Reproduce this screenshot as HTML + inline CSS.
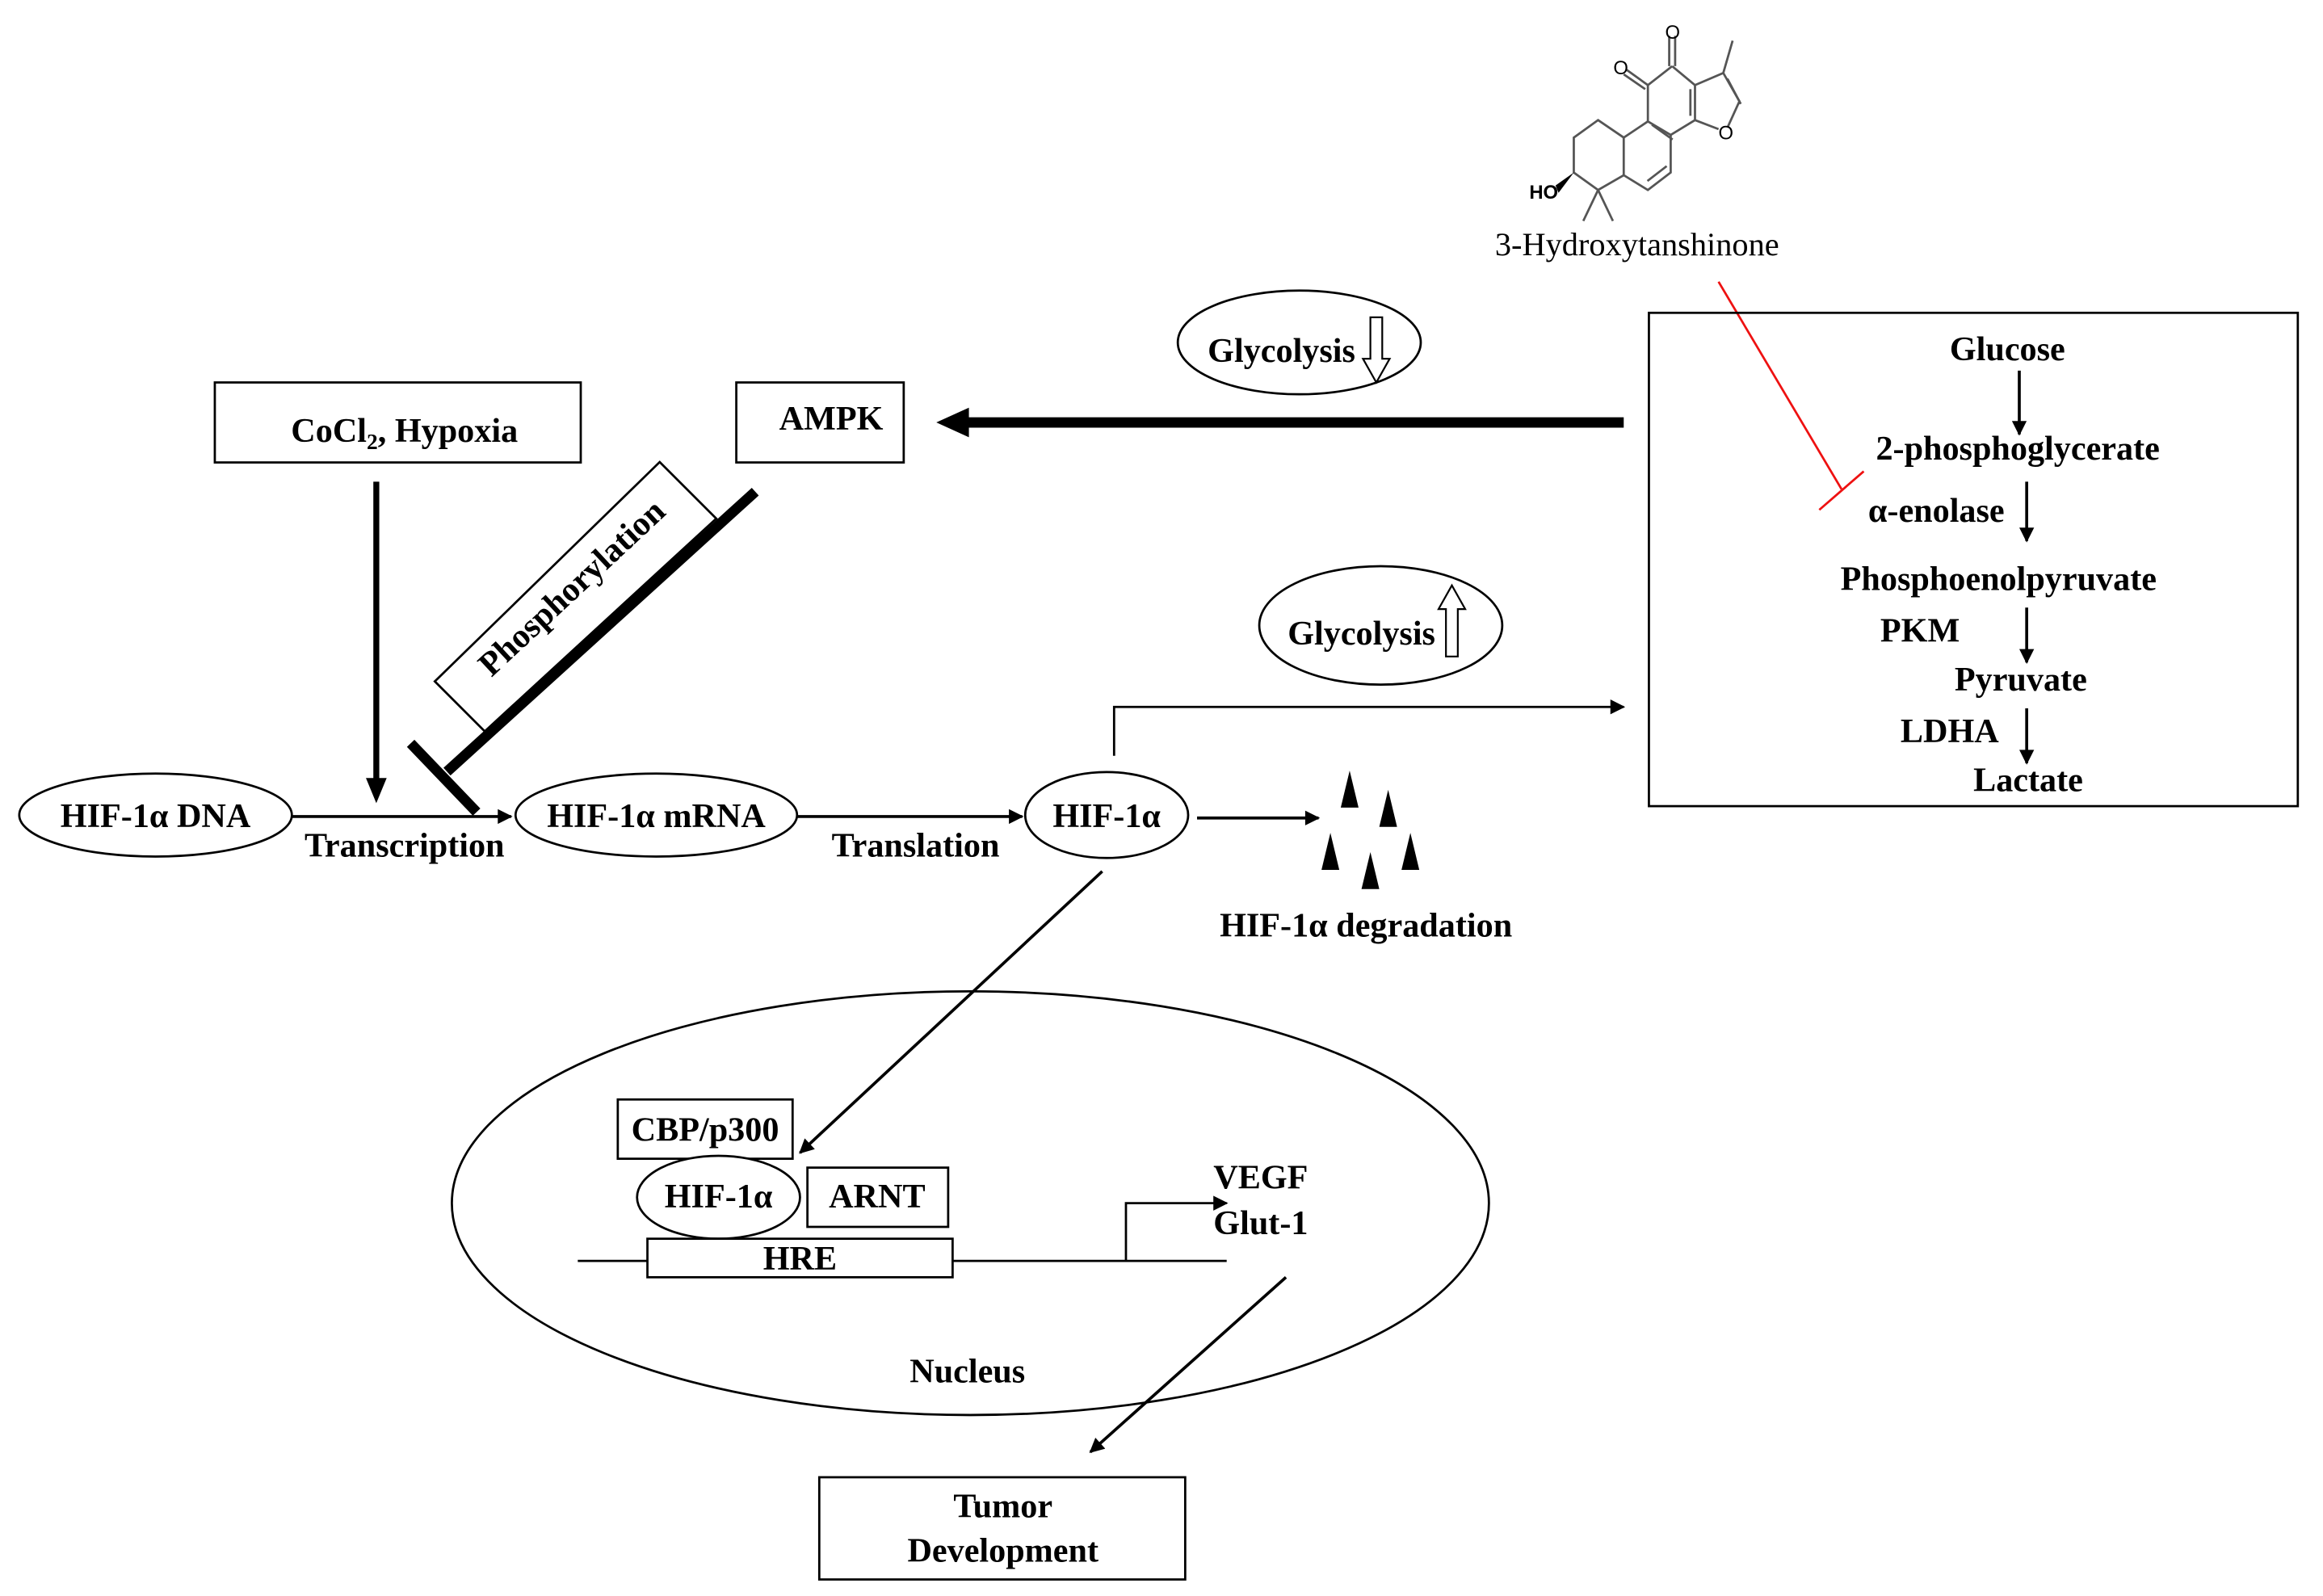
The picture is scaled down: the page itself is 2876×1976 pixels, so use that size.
<!DOCTYPE html>
<html><head><meta charset="utf-8"><style>
html,body{margin:0;padding:0;background:#fff}
svg{display:block}
text{font-family:"Liberation Serif",serif;font-weight:bold;font-size:23px;fill:#000;text-anchor:middle}
</style></head><body>
<svg width="2876" height="1976" viewBox="0 0 1568 1077" xmlns="http://www.w3.org/2000/svg">
<defs>
<marker id="ah" viewBox="0 0 10 10" refX="9" refY="5" markerWidth="11" markerHeight="10" markerUnits="userSpaceOnUse" orient="auto"><path d="M0,0L10,5L0,10z"/></marker>
</defs>
<rect width="1568" height="1077" fill="#fff"/>
<g stroke="#555" stroke-width="1.5" fill="none">
<path d="M1128.7,44.5L1112.3,57.3L1112.3,81.8L1127.7,90.9L1144.1,80.9L1144.1,57.3L1128.7,44.5"/>
<path d="M1126.7,44.5V24M1130.7,44.5V24"/>
<path d="M1112.3,57.3L1098,47M1110.5,60L1096,50"/>
<path d="M1144.1,57.3L1163.2,49.1L1174.1,68.2L1166,86M1144.1,80.9L1160,87M1163.2,49.1L1169.5,27.3"/>
<path d="M1166,53L1175,70M1141,60V78"/>
<path d="M1127.7,90.9L1127.7,116.3L1112.3,128.1L1096,118.1L1096,92.7L1112.3,81.8M1125,112L1112,122M1115,84L1129,94"/>
<path d="M1096,92.7L1078.7,80.9L1062.3,92.7L1062.3,116.3L1078.7,128.1L1096,118.1M1078.7,128.1L1068.7,149M1078.7,128.1L1088.7,149"/>
</g>
<path d="M1062.3,116.3L1050,125L1052,130z" fill="#000"/>
<text x="1042" y="134" style="font-family:'Liberation Sans',sans-serif;font-size:13px">HO</text>
<text x="1129" y="26" style="font-family:'Liberation Sans',sans-serif;font-size:13px;font-weight:normal">O</text>
<text x="1094" y="50" style="font-family:'Liberation Sans',sans-serif;font-size:13px;font-weight:normal">O</text>
<text x="1165" y="94" style="font-family:'Liberation Sans',sans-serif;font-size:13px;font-weight:normal">O</text>
<text x="1105" y="172" style="font-weight:normal;font-size:22px">3-Hydroxytanshinone</text>
<g stroke="#e11" stroke-width="1.5"><line x1="1160" y1="190" x2="1243" y2="330"/><line x1="1228" y1="344" x2="1258" y2="318"/></g>
<rect x="1113" y="211" width="438" height="333" fill="none" stroke="#000" stroke-width="1.5"/>
<text x="1355" y="243">Glucose</text>
<text x="1362" y="310">2-phosphoglycerate</text>
<text x="1307" y="352">α-enolase</text>
<text x="1349" y="398">Phosphoenolpyruvate</text>
<text x="1296" y="433">PKM</text>
<text x="1364" y="466">Pyruvate</text>
<text x="1316" y="501">LDHA</text>
<text x="1369" y="534">Lactate</text>
<g stroke="#000" stroke-width="2" marker-end="url(#ah)">
<line x1="1363" y1="250" x2="1363" y2="293"/>
<line x1="1368" y1="325" x2="1368" y2="365"/>
<line x1="1368" y1="410" x2="1368" y2="447"/>
<line x1="1368" y1="478" x2="1368" y2="515"/>
</g>
<ellipse cx="877" cy="231" rx="82" ry="35" fill="none" stroke="#000" stroke-width="1.5"/>
<text x="865" y="244">Glycolysis</text>
<path d="M925,214h8v28h5l-9,16l-9,-16h5z" fill="#fff" stroke="#000" stroke-width="1.2"/>
<line x1="1096" y1="285" x2="645" y2="285" stroke="#000" stroke-width="7"/>
<path d="M632,285L654,275L654,295z" fill="#000"/>
<rect x="497" y="258" width="113" height="54" fill="none" stroke="#000" stroke-width="1.5"/>
<text x="561" y="290">AMPK</text>
<rect x="145" y="258" width="247" height="54" fill="none" stroke="#000" stroke-width="1.5"/>
<text x="273" y="298">CoCl<tspan font-size="15" dy="5">2</tspan><tspan dy="-5">,  Hypoxia</tspan></text>
<line x1="254" y1="325" x2="254" y2="528" stroke="#000" stroke-width="4"/>
<path d="M254,542L247,525L261,525z" fill="#000"/>
<polygon points="293.5,459.8 445.3,311.7 483.5,349.9 327.2,493.5" fill="#fff" stroke="#000" stroke-width="1.5"/>
<text x="0" y="0" transform="translate(391,402) rotate(-43)">Phosphorylation</text>
<line x1="509.8" y1="331.7" x2="301.7" y2="520.7" stroke="#000" stroke-width="7"/>
<line x1="277.2" y1="501.6" x2="321.7" y2="548" stroke="#000" stroke-width="7"/>
<ellipse cx="105" cy="550" rx="92" ry="28" fill="none" stroke="#000" stroke-width="1.5"/>
<text x="105" y="558">HIF-1α DNA</text>
<line x1="197" y1="551" x2="345" y2="551" stroke="#000" stroke-width="2" marker-end="url(#ah)"/>
<text x="273" y="578">Transcription</text>
<ellipse cx="443" cy="550" rx="95" ry="28" fill="none" stroke="#000" stroke-width="1.5"/>
<text x="443" y="558">HIF-1α  mRNA</text>
<line x1="538" y1="551" x2="690" y2="551" stroke="#000" stroke-width="2" marker-end="url(#ah)"/>
<text x="618" y="578">Translation</text>
<ellipse cx="747" cy="550" rx="55" ry="29" fill="none" stroke="#000" stroke-width="1.5"/>
<text x="747" y="558">HIF-1α</text>
<line x1="808" y1="552" x2="890" y2="552" stroke="#000" stroke-width="2" marker-end="url(#ah)"/>
<g fill="#000">
<path d="M911,520l-6,25h12z"/><path d="M937,533l-6,25h12z"/><path d="M898,562l-6,25h12z"/><path d="M925,575l-6,25h12z"/><path d="M952,562l-6,25h12z"/>
</g>
<text x="922" y="632">HIF-1α degradation</text>
<path d="M752,510V477H1096" fill="none" stroke="#000" stroke-width="1.5" marker-end="url(#ah)"/>
<ellipse cx="932" cy="422" rx="82" ry="40" fill="none" stroke="#000" stroke-width="1.5"/>
<text x="919" y="435">Glycolysis</text>
<path d="M976,443h8v-32h5l-9,-16l-9,16h5z" fill="#fff" stroke="#000" stroke-width="1.2"/>
<line x1="744" y1="588" x2="540" y2="778" stroke="#000" stroke-width="2" marker-end="url(#ah)"/>
<ellipse cx="655" cy="812" rx="350" ry="143" fill="none" stroke="#000" stroke-width="1.5"/>
<text x="653" y="933">Nucleus</text>
<rect x="417" y="742" width="118" height="40" fill="none" stroke="#000" stroke-width="1.5"/>
<text x="476" y="770">CBP/p300</text>
<ellipse cx="485" cy="808" rx="55" ry="28" fill="#fff" stroke="#000" stroke-width="1.5"/>
<text x="485" y="815">HIF-1α</text>
<rect x="545" y="788" width="95" height="40" fill="none" stroke="#000" stroke-width="1.5"/>
<text x="592" y="815">ARNT</text>
<line x1="390" y1="851" x2="828" y2="851" stroke="#000" stroke-width="1.5"/>
<rect x="437" y="836" width="206" height="26" fill="#fff" stroke="#000" stroke-width="1.5"/>
<text x="540" y="857">HRE</text>
<path d="M760,851V812H828" fill="none" stroke="#000" stroke-width="1.5" marker-end="url(#ah)"/>
<text x="851" y="802">VEGF</text>
<text x="851" y="833">Glut-1</text>
<line x1="868" y1="862" x2="736" y2="980" stroke="#000" stroke-width="2" marker-end="url(#ah)"/>
<rect x="553" y="997" width="247" height="69" fill="none" stroke="#000" stroke-width="1.5"/>
<text x="677" y="1024">Tumor</text>
<text x="677" y="1054">Development</text>
</svg>
</body></html>
